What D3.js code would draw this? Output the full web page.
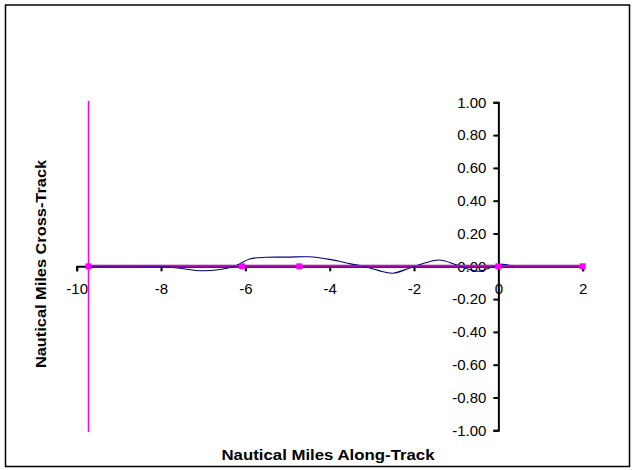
<!DOCTYPE html>
<html>
<head>
<meta charset="utf-8">
<script src="https://cdn.jsdelivr.net/npm/d3@7"></script>
<style>
  body { margin: 0; background: #fff; }
  text { font-family: "Liberation Sans", Arial, sans-serif; }
</style>
</head>
<body>
<script>
// track deviation (nautical miles)
const trackX = [-9.72, -8.2, -7.6, -7.1, -6.6, -6.25, -5.9, -5.5, -5.0, -4.5, -4.0, -3.5, -3.2, -2.85, -2.5, -2.1, -1.75, -1.4, -1.0, -0.5, -0.1, 0.1, 0.35];
const trackY = [0, 0, -0.01, -0.027, -0.02, 0, 0.045, 0.055, 0.056, 0.058, 0.042, 0.015, 0, -0.025, -0.042, -0.01, 0.02, 0.038, 0.01, -0.03, 0, 0.012, 0];

// reference path with markers
const refX = [-9.72, -6.08, -4.72, 0, 2];
const refY = [0, 0, 0, 0, 0];

// start gate line
const gateX = [-9.72, -9.72];
const gateY = [1.01, -1.01];

const xTicks = [-10, -8, -6, -4, -2, 0, 2];
const yTicks = [1, 0.8, 0.6, 0.4, 0.2, 0, -0.2, -0.4, -0.6, -0.8, -1];

const width = 635, height = 470;

const svg = d3.select("body").append("svg")
    .attr("width", width)
    .attr("height", height);

svg.append("rect")
    .attr("x", 5.5).attr("y", 5)
    .attr("width", 624).attr("height", 461.5)
    .attr("fill", "#fff")
    .attr("stroke", "#000")
    .attr("stroke-width", 1.5);

const x = d3.scaleLinear().domain([-10, 2]).range([76.7, 582.7]);
const y = d3.scaleLinear().domain([-1, 1]).range([430.3, 102.3]);

const hyphen = f => d => f(d).replace("\u2212", "-");

// y axis sits at x = 0
const yAxis = svg.append("g")
    .attr("transform", `translate(${x(0)},0)`)
    .call(d3.axisLeft(y).tickValues(yTicks).tickSize(5).tickPadding(7).tickFormat(hyphen(d3.format(".2f"))));

// x axis sits at y = 0
const xAxis = svg.append("g")
    .attr("transform", `translate(0,${y(0)})`)
    .call(d3.axisBottom(x).tickValues(xTicks).tickSize(5).tickPadding(8).tickFormat(hyphen(d3.format("d"))));

[xAxis, yAxis].forEach(g => {
  g.select(".domain").attr("stroke", "#000").attr("stroke-width", 2);
  g.selectAll(".tick line").attr("stroke", "#000").attr("stroke-width", 2);
  g.selectAll(".tick text")
      .attr("font-size", "15px")
      .attr("fill", "#000");
});
xAxis.selectAll(".tick text").attr("dy", "0.98em");

const line = d3.line()
    .x(i => x(i[0]))
    .y(i => y(i[1]));

// dark purple underlay along the reference path
svg.append("path")
    .datum(d3.zip(refX, refY))
    .attr("fill", "none")
    .attr("stroke", "#800080")
    .attr("stroke-width", 3)
    .attr("d", line);

// gate line
svg.append("path")
    .datum(d3.zip(gateX, gateY))
    .attr("fill", "none")
    .attr("stroke", "#ff00ff")
    .attr("stroke-width", 1.5)
    .attr("d", line);

// flown track, smoothed
svg.append("path")
    .datum(d3.zip(trackX, trackY))
    .attr("fill", "none")
    .attr("stroke", "#000080")
    .attr("stroke-width", 1.1)
    .attr("d", d3.line().x(i => x(i[0])).y(i => y(i[1])).curve(d3.curveCatmullRom.alpha(0.5)));

svg.append("path")
    .datum(d3.zip(refX, refY))
    .attr("fill", "none")
    .attr("stroke", "#ff00ff")
    .attr("stroke-width", 1)
    .attr("d", d3.line().x(i => x(i[0])).y(i => y(i[1]) - 0.5));

svg.append("g")
  .selectAll("rect")
  .data(d3.zip(refX, refY))
  .join("rect")
    .attr("x", d => x(d[0]) - 3)
    .attr("y", d => y(d[1]) - 3)
    .attr("width", 6)
    .attr("height", 6)
    .attr("fill", "#ff00ff");

svg.append("text")
    .attr("transform", "translate(328,460) scale(1.2,1)")
    .attr("text-anchor", "middle")
    .attr("font-size", "14px")
    .attr("font-weight", "bold")
    .text("Nautical Miles Along-Track");

svg.append("text")
    .attr("transform", "translate(46,264) rotate(-90) scale(1.17,1)")
    .attr("text-anchor", "middle")
    .attr("font-size", "14px")
    .attr("font-weight", "bold")
    .text("Nautical Miles Cross-Track");
</script>
</body>
</html>
